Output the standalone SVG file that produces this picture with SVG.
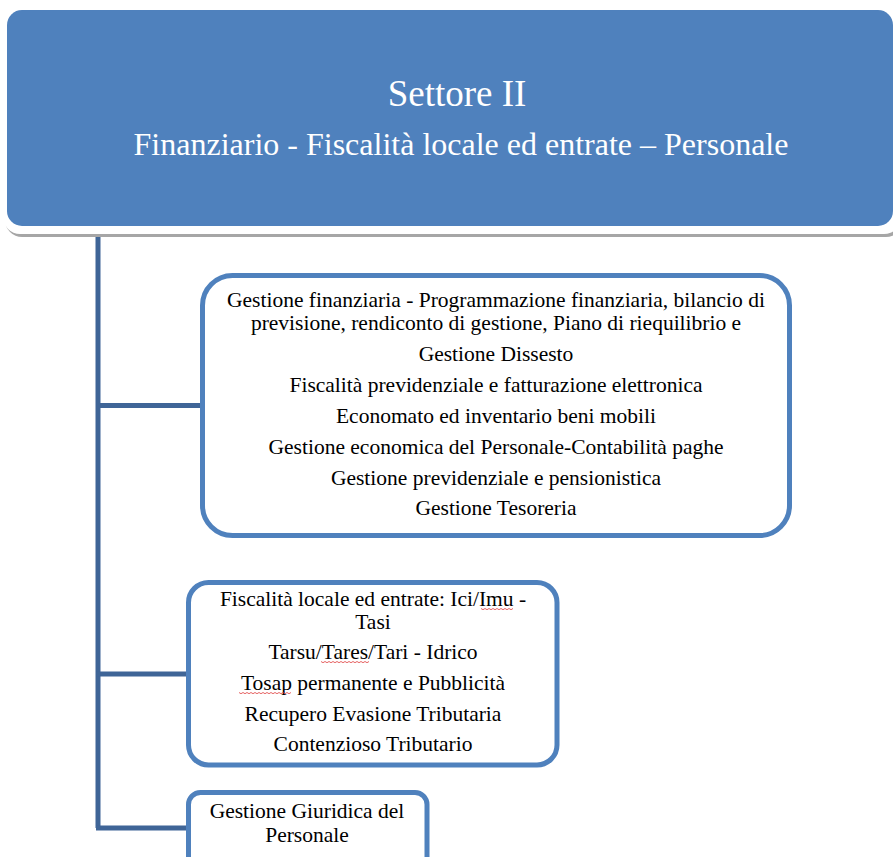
<svg xmlns="http://www.w3.org/2000/svg" width="893" height="857" viewBox="0 0 893 857">
<style>
.t{font-family:"Liberation Serif","Times New Roman",serif;fill:#000;text-anchor:middle;font-size:21.5px}
.h{font-family:"Liberation Serif","Times New Roman",serif;fill:#fff;text-anchor:middle}
.box{fill:#fff;stroke:#4F81BD;stroke-width:5}
.conn{stroke:#3F6597;stroke-width:5;fill:none}
.sq{stroke:#E03C3C;stroke-width:0.8;fill:none}
</style>
<rect width="893" height="857" fill="#fff"/>
<g id="connectors">
<line class="conn" x1="98" y1="228" x2="98" y2="828"/>
<line class="conn" x1="96" y1="405.5" x2="201" y2="405.5"/>
<line class="conn" x1="96" y1="674" x2="187" y2="674"/>
<line class="conn" x1="96" y1="828" x2="187" y2="828"/>
</g>
<g id="header">
<rect x="5" y="10" width="898" height="227" rx="17" fill="#A6A6A6"/>
<rect x="3" y="7" width="898" height="227" rx="17" fill="#fff"/>
<rect x="7" y="10" width="886" height="216" rx="15" fill="#4F81BD"/>
<text class="h" x="457" y="106" font-size="37">Settore II</text>
<text class="h" x="461" y="155" font-size="32">Finanziario - Fiscalità locale ed entrate – Personale</text>
</g>
<g id="box1">
<rect class="box" x="202.5" y="275.5" width="587" height="260" rx="30"/>
<text class="t" x="496" y="307">Gestione finanziaria - Programmazione finanziaria, bilancio di</text>
<text class="t" x="496" y="330">previsione, rendiconto di gestione, Piano di riequilibrio e</text>
<text class="t" x="496" y="361">Gestione Dissesto</text>
<text class="t" x="496" y="392">Fiscalità previdenziale e fatturazione elettronica</text>
<text class="t" x="496" y="423">Economato ed inventario beni mobili</text>
<text class="t" x="496" y="454">Gestione economica del Personale-Contabilità paghe</text>
<text class="t" x="496" y="485">Gestione previdenziale e pensionistica</text>
<text class="t" x="496" y="515">Gestione Tesoreria</text>
</g>
<g id="box2">
<rect class="box" x="188.5" y="582.5" width="368.5" height="182.5" rx="20"/>
<text class="t" x="373" y="606">Fiscalità locale ed entrate: Ici/Imu -</text>
<text class="t" x="373" y="629">Tasi</text>
<text class="t" x="373" y="659">Tarsu/Tares/Tari - Idrico</text>
<text class="t" x="373" y="690">Tosap permanente e Pubblicità</text>
<text class="t" x="373" y="721">Recupero Evasione Tributaria</text>
<text class="t" x="373" y="751">Contenzioso Tributario</text>
<path class="sq" d="M481 608.5 l2 1.2 l2 -1.2 l2 1.2 l2 -1.2 l2 1.2 l2 -1.2 l2 1.2 l2 -1.2 l2 1.2 l2 -1.2 l2 1.2 l2 -1.2 l2 1.2 l2 -1.2 l2 1.2 l2 -1.2"/>
<path class="sq" d="M321 661.5 l2 1.2 l2 -1.2 l2 1.2 l2 -1.2 l2 1.2 l2 -1.2 l2 1.2 l2 -1.2 l2 1.2 l2 -1.2 l2 1.2 l2 -1.2 l2 1.2 l2 -1.2 l2 1.2 l2 -1.2 l2 1.2 l2 -1.2 l2 1.2 l2 -1.2 l2 1.2 l2 -1.2 l2 1.2 l2 -1.2"/>
<path class="sq" d="M239 692.5 l2 1.2 l2 -1.2 l2 1.2 l2 -1.2 l2 1.2 l2 -1.2 l2 1.2 l2 -1.2 l2 1.2 l2 -1.2 l2 1.2 l2 -1.2 l2 1.2 l2 -1.2 l2 1.2 l2 -1.2 l2 1.2 l2 -1.2 l2 1.2 l2 -1.2 l2 1.2 l2 -1.2 l2 1.2 l2 -1.2 l2 1.2 l2 -1.2"/>
</g>
<g id="box3">
<rect class="box" x="188.5" y="792.5" width="238.5" height="90" rx="12"/>
<text class="t" x="307" y="818">Gestione Giuridica del</text>
<text class="t" x="307" y="842">Personale</text>
</g>
</svg>
